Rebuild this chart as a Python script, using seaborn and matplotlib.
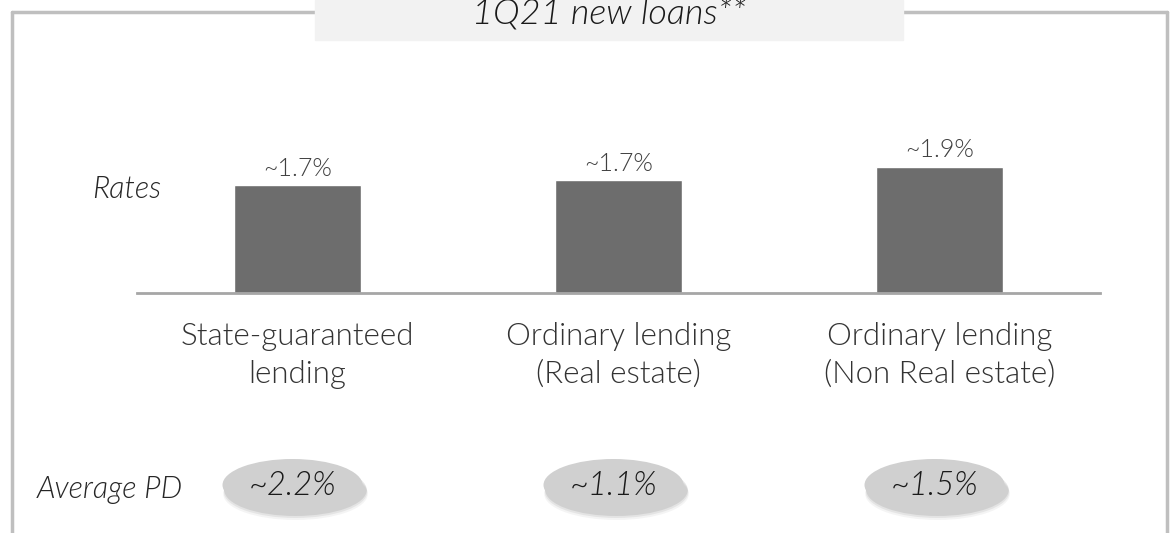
import matplotlib
matplotlib.use("Agg")
import matplotlib.pyplot as plt
import seaborn as sns
import pandas as pd
from matplotlib.patches import Ellipse, Rectangle
from matplotlib.lines import Line2D

# ---- data ----
categories = ["State-guaranteed\nlending", "Ordinary lending\n(Real estate)", "Ordinary lending\n(Non Real estate)"]
rates = [1.65, 1.72, 1.93]
rate_labels = ["~1.7%", "~1.7%", "~1.9%"]
pd_labels = ["~2.2%", "~1.1%", "~1.5%"]
title = "1Q21 new loans**"
row_rates = "Rates"
row_pd = "Average PD"

sns.set_theme(style="white")
plt.rcParams["font.family"] = ["Lato", "DejaVu Sans"]
LIGHT = 300

W, H = 1172, 533
fig = plt.figure(figsize=(W / 100, H / 100), dpi=100)

def fx(px):
    return px / W

def fy(py):
    return 1 - py / H

# overlay axes in pixel coords for decorations
ov = fig.add_axes([0, 0, 1, 1])
ov.set_xlim(0, W)
ov.set_ylim(H, 0)
ov.axis("off")

# main bar axes
ax = fig.add_axes([fx(137), fy(293), fx(1100) - fx(137), fy(133) - fy(293)])
df = pd.DataFrame({"cat": categories, "rate": rates})
sns.barplot(data=df, x="cat", y="rate", color="#6d6d6d", saturation=1, width=0.396, ax=ax)
ax.set_xlim(-0.5, 2.5)
ax.set_ylim(0, 2.443)
ax.set_xlabel("")
ax.set_ylabel("")
ax.set_yticks([])
for s in ["top", "right", "left"]:
    ax.spines[s].set_visible(False)
ax.spines["bottom"].set_color("#a6a6a6")
ax.spines["bottom"].set_linewidth(2)
ax.tick_params(axis="x", length=0, pad=21)
ax.set_xticks(range(len(categories)))
ax.set_xticklabels(categories, fontsize=22.5, color="#333333", fontweight=LIGHT, linespacing=1.38)
ax.patch.set_alpha(0)

for i, (v, lab) in enumerate(zip(rates, rate_labels)):
    ax.annotate(lab, (i, v), xytext=(0, 3), textcoords="offset points",
                ha="center", va="bottom", fontsize=18, color="#404040", fontweight=LIGHT)

# frame
fc = "#bfbfbf"
ov.add_line(Line2D([12, 12], [12, H], color=fc, lw=2.5))
ov.add_line(Line2D([1167, 1167], [12, H], color=fc, lw=2.5))
ov.add_line(Line2D([12, 315], [12, 12], color=fc, lw=2.5))
ov.add_line(Line2D([903, 1167], [12, 12], color=fc, lw=2.5))
ov.add_patch(Rectangle((315, 0), 588, 40, color="#f2f2f2", zorder=2))
ov.text(609, 15, title, ha="center", va="center", fontsize=26, style="italic",
        fontweight=LIGHT, color="#1a1a1a", zorder=3)

# row labels
ov.text(92, 190, row_rates, ha="left", va="center", fontsize=22, style="italic",
        fontweight=LIGHT, color="#262626")
ov.text(37, 489, row_pd, ha="left", va="center", fontsize=22, style="italic",
        fontweight=LIGHT, color="#262626")

# PD ellipses aligned to bar centers
for i, lab in enumerate(pd_labels):
    xd = ax.transData.transform((i, 0))[0]
    cx = ov.transData.inverted().transform((xd, 0))[0] - 5
    cy = 485
    for k, a in [(9, 0.06), (7, 0.09), (5, 0.13)]:
        ov.add_patch(Ellipse((cx + 3, cy + k), 140 + k / 2, 52, color="#4d4d4d", alpha=a, lw=0, zorder=4))
    ov.add_patch(Ellipse((cx, cy), 140, 52, color="#d0d0d0", lw=0, zorder=5))
    ov.text(cx, cy + 1, lab, ha="center", va="center", fontsize=23.5, style="italic",
            fontweight=LIGHT, color="#1a1a1a", zorder=6)

fig.savefig("out.png", dpi=100)
